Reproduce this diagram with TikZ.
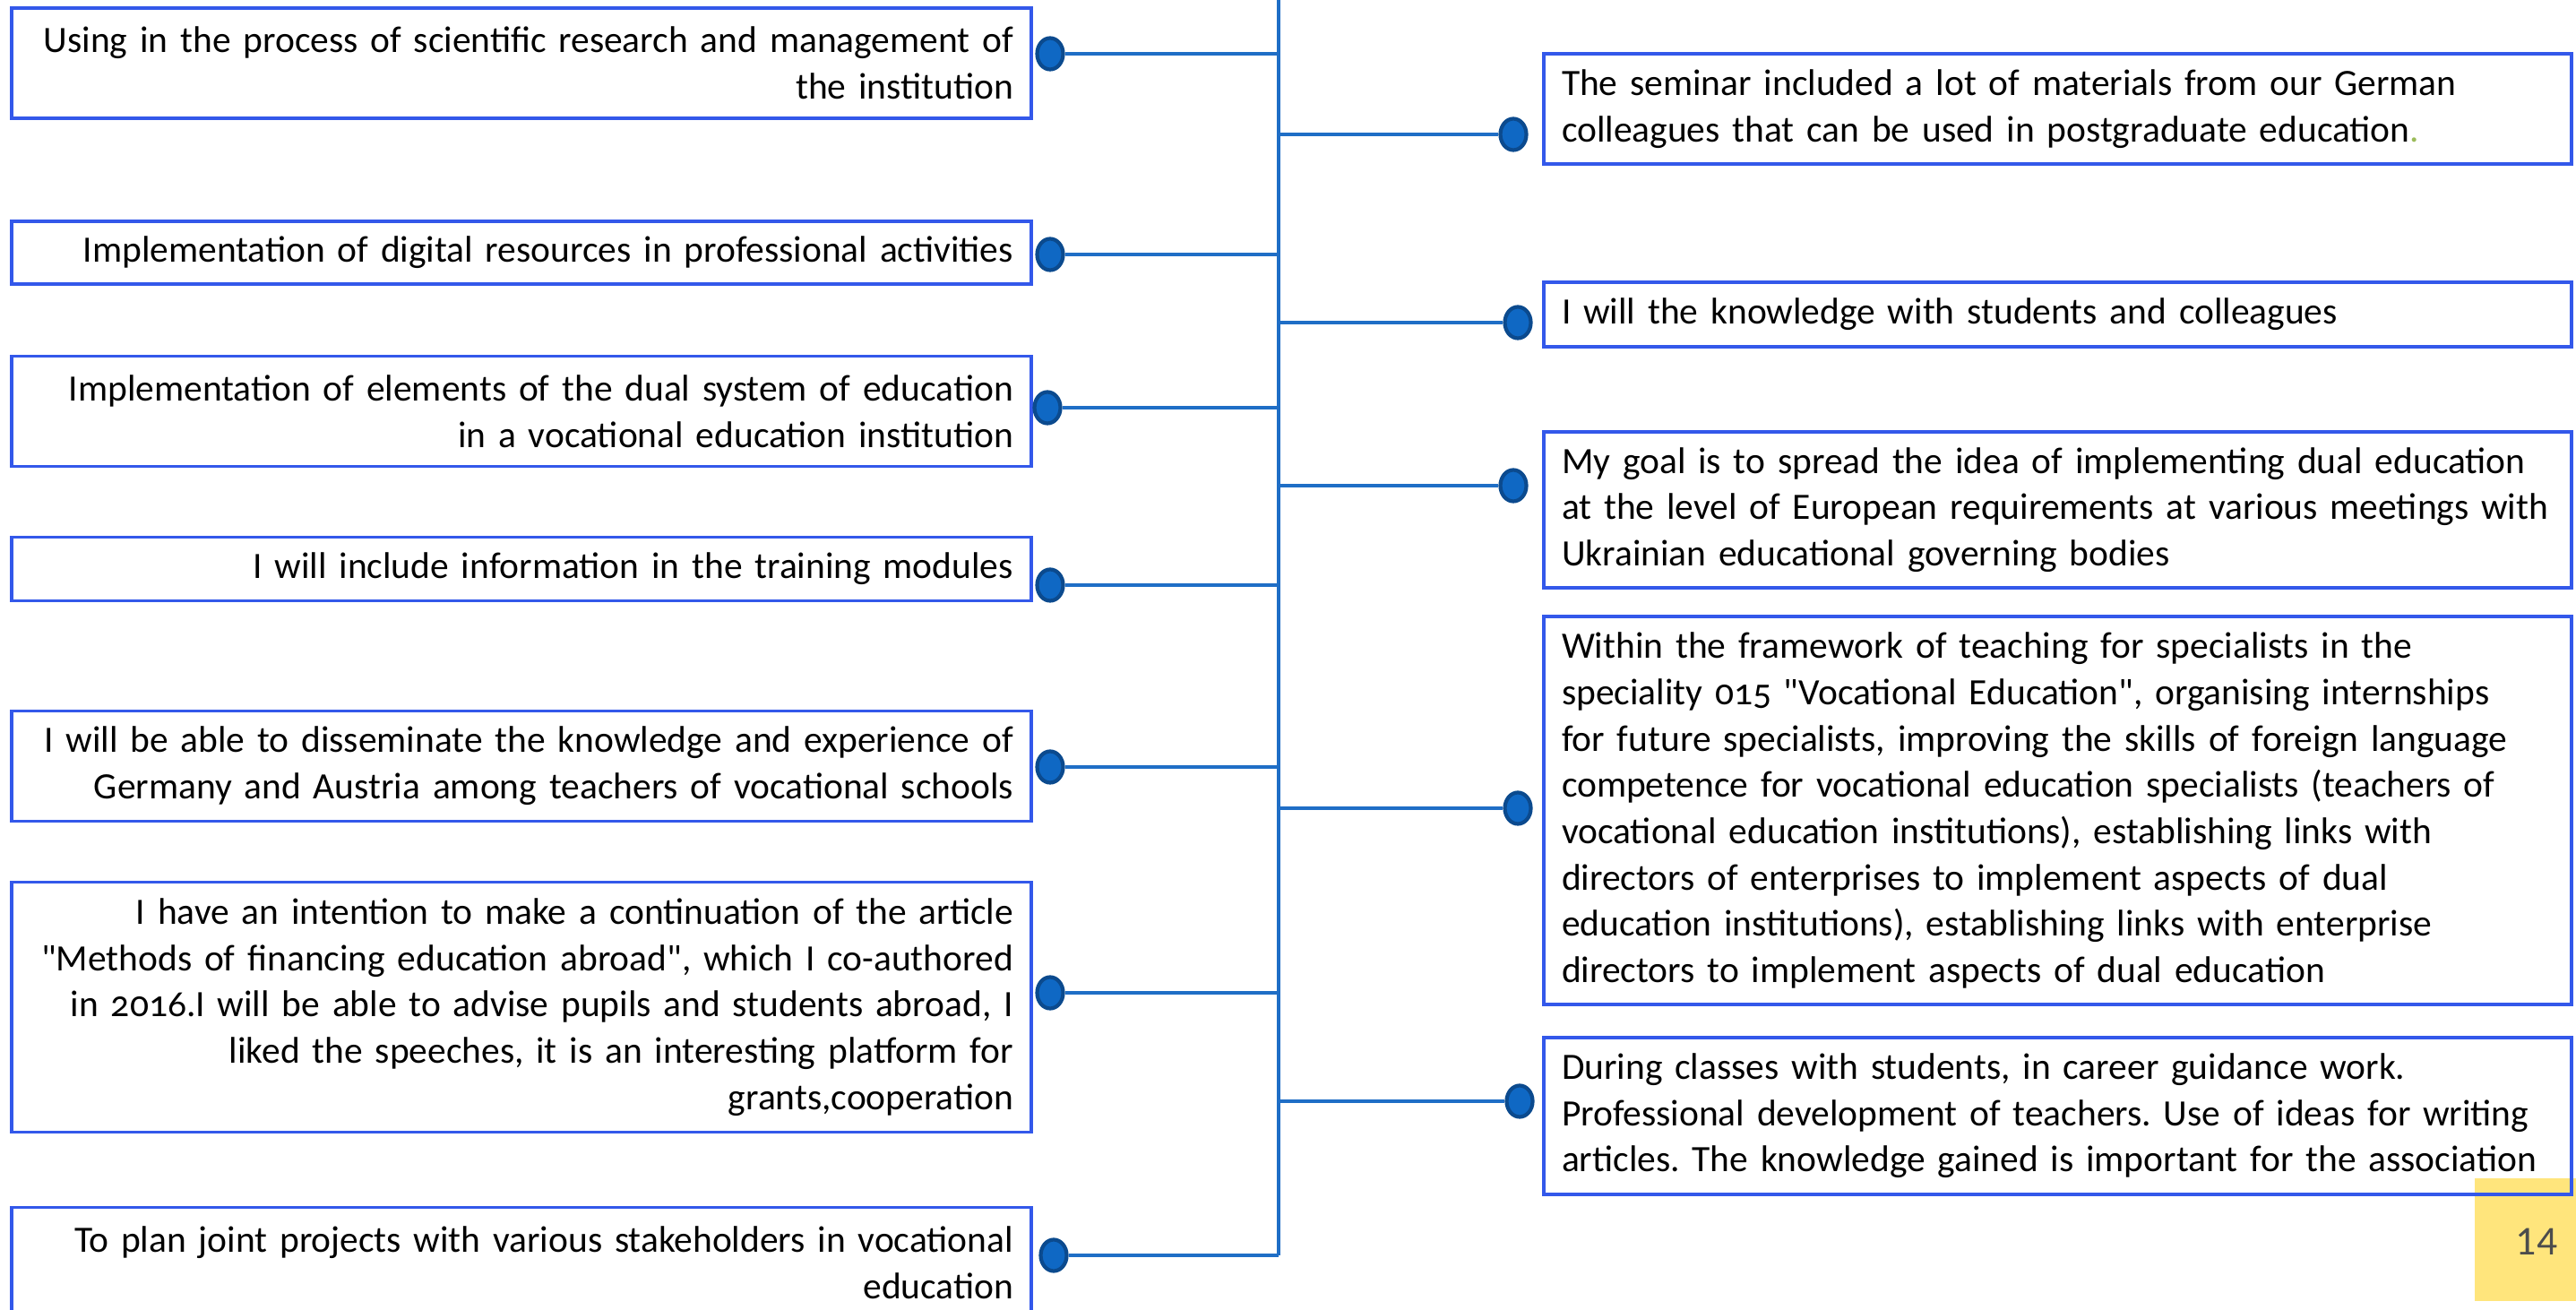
\documentclass[tikz,border=0pt]{standalone}
\usepackage{fontspec}
\setmainfont{Carlito}[Numbers=OldStyle]
\newfontfamily\pagefont{Carlito}
\usepackage{xcolor}
\usepackage{tikz}
\usetikzlibrary{shapes.geometric}
\definecolor{boxblue}{HTML}{3358EA}
\definecolor{linkblue}{HTML}{1F6EC6}
\definecolor{dotblue}{HTML}{0F68C4}
\definecolor{dotedge}{HTML}{0B4A8E}
\definecolor{pageyellow}{HTML}{FFE57C}
\definecolor{dotgreen}{HTML}{9BBB59}
\hyphenpenalty=10000
\exhyphenpenalty=10000
\frenchspacing

\begin{document}
\begin{tikzpicture}[
        every node/.style={font=\fontsize{11.8}{14.7}\selectfont},
        leftbox/.style={draw=boxblue, line width=1pt, text width=10.98cm,
            inner xsep=0.2cm, inner ysep=0mm, align=right},
        rightbox/.style={draw=boxblue, line width=1pt, text width=11.07cm,
            inner xsep=0.2cm, inner ysep=0mm, align=left},
        dot/.style={ellipse, draw=dotedge, fill=dotblue, line width=1.2pt,
            minimum width=0.29cm, minimum height=0.35cm, inner sep=0mm},
        link/.style={draw=linkblue, line width=0.9pt}]
    \useasboundingbox[fill=white] (0,0) rectangle (28.75,-14.62);
    % page number
    \fill[pageyellow] (27.62,-13.15) rectangle (28.75,-14.52);
    \node[text=black!70, font=\pagefont\fontsize{13}{15}\selectfont] (page) at (28.31,-13.86) {14};
    % trunk
    \coordinate (top) at (14.27,0);
    \coordinate (bot) at (14.27,-14.01);
    \draw[link] (top) -- (bot);
    % left side
    \node[leftbox, minimum height=1.23cm] (useres) at (5.82,-0.706)
        {Using in the process of scientific research and management of\\the institution};
    \node[leftbox, minimum height=0.70cm] (digital) at (5.82,-2.82)
        {Implementation of digital resources in professional activities};
    \node[leftbox, minimum height=1.23cm] (dualsys) at (5.82,-4.59)
        {Implementation of elements of the dual system of education\\in a vocational education institution};
    \node[leftbox, minimum height=0.71cm] (modules) at (5.82,-6.35)
        {I will include information in the training modules};
    \node[leftbox, minimum height=1.23cm] (spread) at (5.82,-8.55)
        {I will be able to disseminate the knowledge and experience of\\Germany and Austria among teachers of vocational schools};
    \node[leftbox, minimum height=2.79cm] (article) at (5.82,-11.24)
        {I have an intention to make a continuation of the article\\\textquotedbl Methods of financing education abroad\textquotedbl, which I co-authored\\in 2016.I will be able to advise pupils and students abroad, I\\liked the speeches, it is an interesting platform for\\grants,cooperation};
    \node[leftbox, minimum height=1.23cm] (joint) at (5.82,-14.09)
        {To plan joint projects with various stakeholders in vocational\\education};
    \node[dot] (dl1) at (11.72,-0.60) {};
    \node[dot] (dl2) at (11.72,-2.84) {};
    \node[dot] (dl3) at (11.69,-4.55) {};
    \node[dot] (dl4) at (11.72,-6.53) {};
    \node[dot] (dl5) at (11.72,-8.56) {};
    \node[dot] (dl6) at (11.72,-11.08) {};
    \node[dot] (dl7) at (11.76,-14.01) {};
    \foreach \d in {dl1,dl2,dl3,dl4,dl5,dl6,dl7}
        \draw[link] (\d.east) -- (\d.east -| top);
    % right side
    \node[rightbox, minimum height=1.23cm] (seminar) at (22.965,-1.215)
        {The seminar included a lot of materials from our German\\colleagues that can be used in postgraduate education{\color{dotgreen}.}};
    \node[rightbox, minimum height=0.72cm] (share) at (22.965,-3.51)
        {I will the knowledge with students and colleagues};
    \node[rightbox, minimum height=1.74cm] (goal) at (22.965,-5.69)
        {My goal is to spread the idea of implementing dual education\\at the level of European requirements at various meetings with\\Ukrainian educational governing bodies};
    \node[rightbox, minimum height=4.33cm] (framework) at (22.965,-9.045)
        {Within the framework of teaching for specialists in the\\speciality 015 \textquotedbl Vocational Education\textquotedbl, organising internships\\for future specialists, improving the skills of foreign language\\competence for vocational education specialists (teachers of\\vocational education institutions), establishing links with\\directors of enterprises to implement aspects of dual\\education institutions), establishing links with enterprise\\directors to implement aspects of dual education};
    \node[rightbox, minimum height=1.75cm] (classes) at (22.965,-12.455)
        {During classes with students, in career guidance work.\\Professional development of teachers. Use of ideas for writing\\articles. The knowledge gained is important for the association};
    \node[dot] (dr1) at (16.89,-1.50) {};
    \node[dot] (dr2) at (16.94,-3.60) {};
    \node[dot] (dr3) at (16.89,-5.42) {};
    \node[dot] (dr4) at (16.94,-9.02) {};
    \node[dot] (dr5) at (16.96,-12.29) {};
    \foreach \d in {dr1,dr2,dr3,dr4,dr5}
        \draw[link] (\d.west -| top) -- (\d.west);
\end{tikzpicture}
\end{document}
